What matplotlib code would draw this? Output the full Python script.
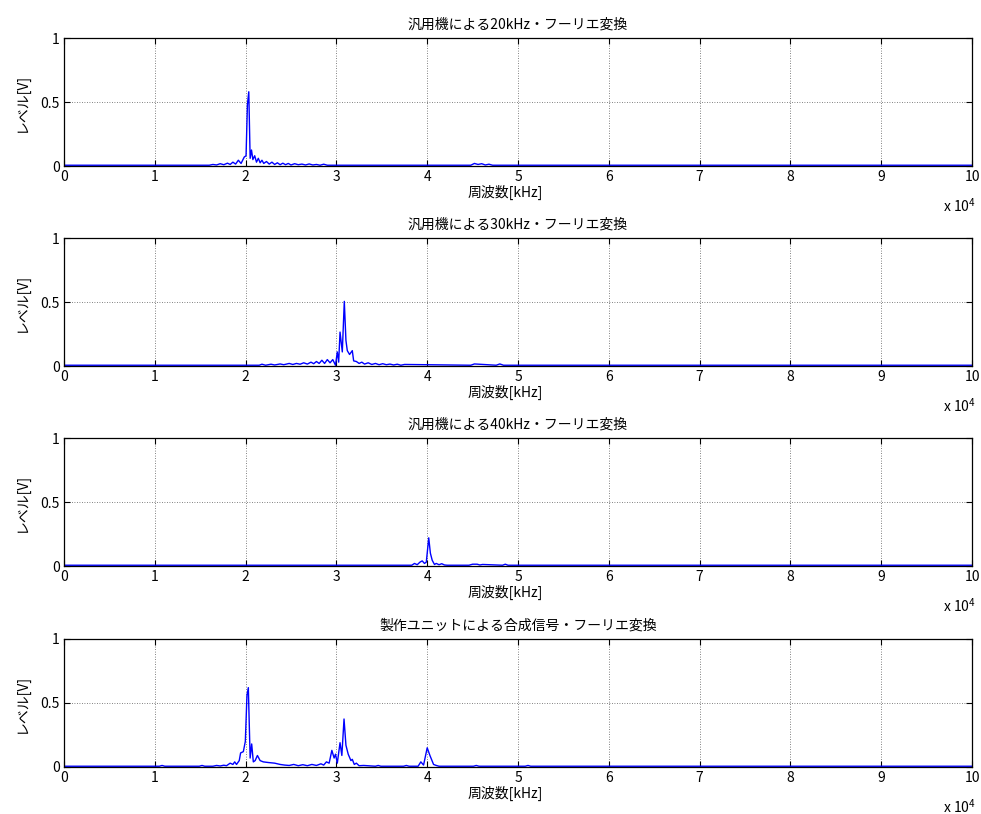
import matplotlib
matplotlib.use("Agg")
import matplotlib.pyplot as plt

plt.rcParams['font.family'] = ['Noto Sans CJK JP', 'DejaVu Sans']
plt.rcParams['mathtext.default'] = 'regular'
plt.rcParams['axes.unicode_minus'] = False

# ---- spectra (frequency in Hz, level in V) ----
titles = [
    "汎用機による20kHz・フーリエ変換",
    "汎用機による30kHz・フーリエ変換",
    "汎用機による40kHz・フーリエ変換",
    "製作ユニットによる合成信号・フーリエ変換",
]
x_label = "周波数[kHz]"
y_label = "レベル[V]"

x_ticks = [0, 10000, 20000, 30000, 40000, 50000, 60000, 70000, 80000, 90000, 100000]
x_tick_labels = ["0", "1", "2", "3", "4", "5", "6", "7", "8", "9", "10"]
y_ticks = [0, 0.5, 1]
y_tick_labels = ["0", "0.5", "1"]

freq_20k = [0, 16000, 16400, 16800, 17200, 17600, 18000, 18300, 18600, 18900,
            19200, 19500, 19850, 20050, 20200, 20350, 20500, 20650, 20800, 21000,
            21200, 21400, 21600, 21800, 22000, 22300, 22600, 22900, 23200, 23500,
            23800, 24100, 24400, 24700, 25000, 25400, 25800, 26200, 26600, 27000,
            27400, 27800, 28200, 28600, 29000, 29400, 44800, 45200, 45600, 46000,
            46400, 46800, 47200, 100000]
level_20k = [0.006, 0.006, 0.012, 0.008, 0.018, 0.010, 0.022, 0.012, 0.030, 0.015,
             0.045, 0.020, 0.070, 0.080, 0.480, 0.580, 0.060, 0.125, 0.050, 0.080,
             0.030, 0.060, 0.025, 0.045, 0.020, 0.035, 0.015, 0.030, 0.012, 0.025,
             0.010, 0.022, 0.010, 0.020, 0.008, 0.018, 0.010, 0.015, 0.008, 0.016,
             0.008, 0.012, 0.006, 0.014, 0.006, 0.006, 0.006, 0.020, 0.012, 0.018,
             0.008, 0.014, 0.006, 0.006]

freq_30k = [0, 21500, 21800, 22200, 22800, 23200, 23800, 24200, 24800, 25200,
            25600, 26000, 26400, 26800, 27200, 27500, 27800, 28100, 28400, 28700,
            29000, 29300, 29600, 29900, 30100, 30250, 30400, 30650, 30870, 31050,
            31200, 31450, 31750, 31900, 32200, 32500, 32800, 33100, 33500, 33900,
            34300, 34700, 35100, 35500, 35900, 36300, 36700, 37100, 37500, 44800,
            45200, 47600, 48000, 48400, 100000]
level_30k = [0.006, 0.006, 0.014, 0.006, 0.014, 0.008, 0.016, 0.010, 0.020, 0.012,
             0.020, 0.014, 0.025, 0.015, 0.030, 0.018, 0.035, 0.020, 0.045, 0.020,
             0.050, 0.025, 0.050, 0.006, 0.110, 0.030, 0.265, 0.110, 0.505, 0.200,
             0.120, 0.090, 0.120, 0.040, 0.035, 0.020, 0.030, 0.015, 0.025, 0.012,
             0.020, 0.010, 0.018, 0.010, 0.015, 0.008, 0.014, 0.006, 0.012, 0.006,
             0.016, 0.006, 0.016, 0.006, 0.006]

freq_40k = [0, 38300, 38600, 38900, 39200, 39450, 39700, 39900, 40170, 40350,
            40550, 40800, 41000, 41300, 41600, 41900, 42200, 44600, 45000, 45500,
            45800, 46100, 48300, 48600, 48900, 100000]
level_40k = [0.006, 0.006, 0.020, 0.010, 0.030, 0.040, 0.020, 0.030, 0.220, 0.100,
             0.045, 0.012, 0.020, 0.010, 0.018, 0.008, 0.006, 0.006, 0.014, 0.014,
             0.008, 0.012, 0.006, 0.014, 0.006, 0.006]

freq_mix = [0, 10500, 10800, 11100, 14900, 15200, 15500, 16400, 16800, 17200,
            17600, 17900, 18300, 18600, 18800, 19000, 19300, 19450, 19750, 19970,
            20150, 20300, 20500, 20670, 20850, 21050, 21300, 21600, 21950, 22500,
            23200, 23800, 24300, 24800, 25300, 25800, 26300, 26800, 27300, 27800,
            28300, 28600, 28900, 29200, 29500, 29750, 29900, 30100, 30400, 30600,
            30840, 31050, 31300, 31600, 31750, 31970, 32200, 32500, 33000, 34300,
            34600, 34900, 37400, 37700, 38000, 39000, 39300, 39600, 40000, 40300,
            40700, 41000, 41300, 45100, 45400, 45700, 50800, 51100, 51400, 100000]
level_mix = [0.006, 0.006, 0.012, 0.006, 0.006, 0.012, 0.006, 0.006, 0.012, 0.008,
             0.014, 0.010, 0.030, 0.020, 0.040, 0.020, 0.050, 0.110, 0.120, 0.200,
             0.560, 0.620, 0.070, 0.180, 0.040, 0.050, 0.090, 0.050, 0.040, 0.035,
             0.030, 0.020, 0.015, 0.012, 0.020, 0.010, 0.018, 0.010, 0.020, 0.012,
             0.025, 0.015, 0.040, 0.030, 0.130, 0.070, 0.100, 0.030, 0.190, 0.090,
             0.375, 0.170, 0.100, 0.050, 0.060, 0.020, 0.030, 0.010, 0.012, 0.006,
             0.012, 0.006, 0.006, 0.012, 0.006, 0.006, 0.040, 0.015, 0.150, 0.090,
             0.020, 0.012, 0.006, 0.006, 0.012, 0.006, 0.006, 0.012, 0.006, 0.006]

series_freq = [freq_20k, freq_30k, freq_40k, freq_mix]
series_level = [level_20k, level_30k, level_40k, level_mix]

W, H = 981, 814
fig = plt.figure(figsize=(W / 100, H / 100), dpi=100)

ax_left, ax_right = 64, 972
ax_tops = [38, 238, 438, 639]
ax_h = 128

for i in range(4):
    top = ax_tops[i]
    ax = fig.add_axes([ax_left / W, 1 - (top + ax_h) / H,
                       (ax_right - ax_left) / W, ax_h / H])
    ax.plot(series_freq[i], series_level[i], color='#0000ff', lw=1.0)
    ax.set_xlim(0, 100000)
    ax.set_ylim(0, 1)
    ax.set_xticks(x_ticks)
    ax.set_xticklabels(x_tick_labels)
    ax.set_yticks(y_ticks)
    ax.set_yticklabels(y_tick_labels)
    ax.tick_params(direction='in', top=True, right=True, length=4, width=0.8,
                   labelsize=10, pad=3)
    ax.grid(True, color='0.35', linestyle=(0, (1, 2)), linewidth=0.6)
    for s in ax.spines.values():
        s.set_linewidth(0.9)
    ax.set_title(titles[i], fontsize=10, pad=7)
    ax.set_xlabel(x_label, fontsize=10)
    ax.xaxis.set_label_coords(0.486, -0.145)
    ax.xaxis.label.set_va('top')
    ax.set_ylabel(y_label, fontsize=10)
    ax.yaxis.set_label_coords(-0.039, 0.5)
    ax.text(1.004, -0.31, r'x 10$^{4}$', transform=ax.transAxes,
            ha='right', va='center', fontsize=10)

fig.savefig("out.png", dpi=100)
